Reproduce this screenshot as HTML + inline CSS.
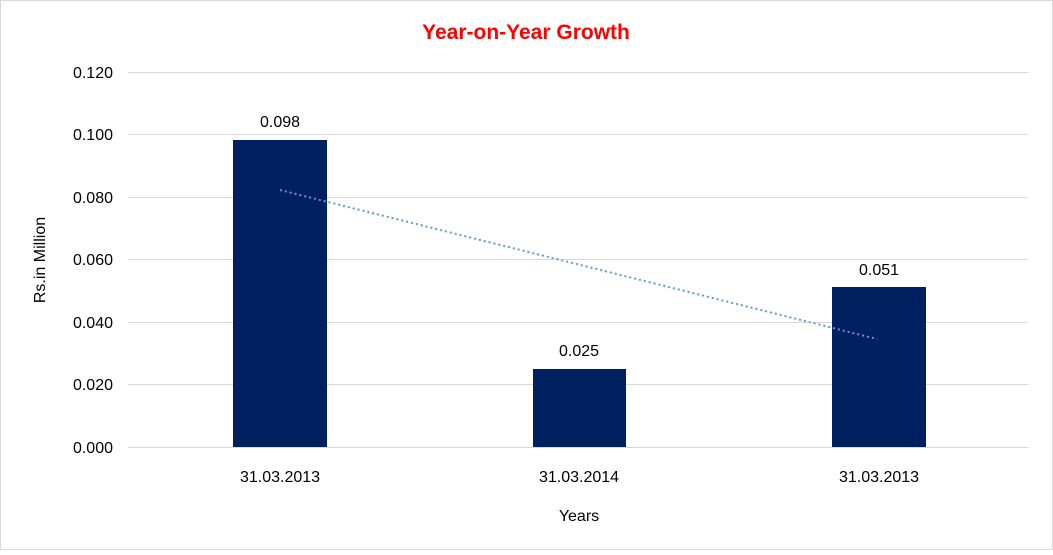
<!DOCTYPE html>
<html><head><style>body{margin:0;background:#fff}</style></head><body>
<svg width="1053" height="550" xmlns="http://www.w3.org/2000/svg" font-family="Liberation Sans, Arial, sans-serif">
<rect x="0.5" y="0.5" width="1052" height="549" fill="#fff" stroke="#d9d9d9"/>
<text x="526" y="39" text-anchor="middle" font-size="21" font-weight="bold" fill="#ff0000">Year-on-Year Growth</text>
<g stroke="#d9d9d9" stroke-width="1">
<line x1="128" x2="1028" y1="72.5" y2="72.5"/>
<line x1="128" x2="1028" y1="134.5" y2="134.5"/>
<line x1="128" x2="1028" y1="197.5" y2="197.5"/>
<line x1="128" x2="1028" y1="259.5" y2="259.5"/>
<line x1="128" x2="1028" y1="322.5" y2="322.5"/>
<line x1="128" x2="1028" y1="384.5" y2="384.5"/>
<line x1="128" x2="1028" y1="447.5" y2="447.5"/>
</g>
<g font-size="16" fill="#000" text-anchor="end">
<text x="113" y="78">0.120</text>
<text x="113" y="140">0.100</text>
<text x="113" y="203">0.080</text>
<text x="113" y="265">0.060</text>
<text x="113" y="328">0.040</text>
<text x="113" y="390">0.020</text>
<text x="113" y="453">0.000</text>
</g>
<text transform="translate(45,260) rotate(-90)" text-anchor="middle" font-size="16">Rs.in Million</text>
<g fill="#002060">
<rect x="233" y="140" width="94" height="307"/>
<rect x="533" y="369" width="93" height="78"/>
<rect x="832" y="287" width="94" height="160"/>
</g>
<line x1="280" y1="190" x2="877" y2="339" stroke="#5b9bd5" stroke-width="2" stroke-dasharray="2,3"/>
<g font-size="16" text-anchor="middle">
<text x="280" y="127">0.098</text>
<text x="579" y="356">0.025</text>
<text x="879" y="275">0.051</text>
<text x="280" y="482">31.03.2013</text>
<text x="579" y="482">31.03.2014</text>
<text x="879" y="482">31.03.2013</text>
<text x="579" y="521">Years</text>
</g>
</svg>
</body></html>
